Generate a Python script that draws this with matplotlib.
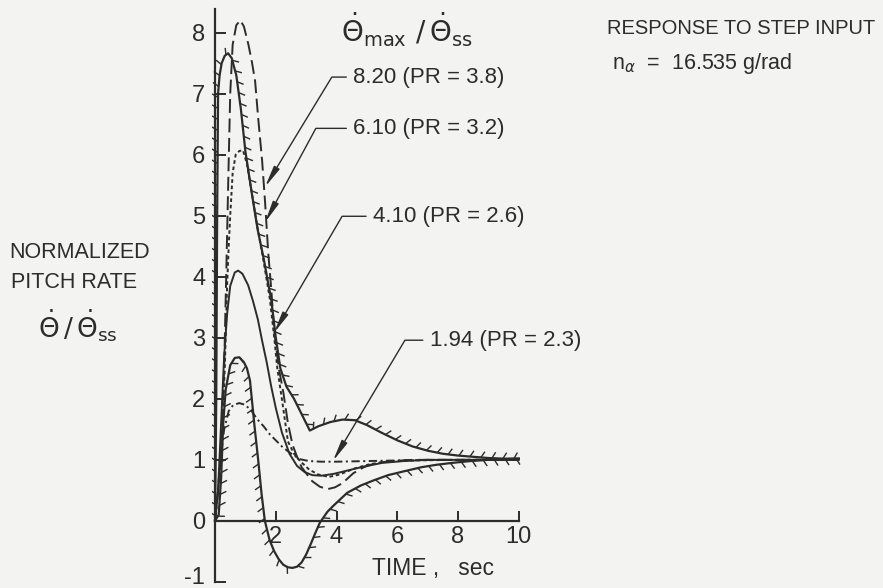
import numpy as np
import matplotlib
matplotlib.use("Agg")
import matplotlib.pyplot as plt
import matplotlib.transforms as mtransforms
from matplotlib.collections import LineCollection

plt.rcParams['font.family'] = ['Liberation Sans', 'DejaVu Sans']
plt.rcParams['mathtext.fontset'] = 'dejavusans'
plt.rcParams['axes.unicode_minus'] = False
plt.rcParams['lines.scale_dashes'] = False

INK = '#2c2c2c'
PAPER = '#f3f3f1'

# upper boundary (hatched)
t_upper = [0, 0.04, 0.07, 0.1, 0.15, 0.22, 0.32, 0.43, 0.55, 0.7, 0.85, 1.0, 1.2, 1.4, 1.6, 1.85,
           2.0, 2.15, 2.35, 2.6, 2.85, 3.12, 3.4, 3.8, 4.2, 4.6, 5.0, 5.5, 6.0, 6.5, 7.0, 7.5,
           8.0, 8.5, 9.0, 9.5, 10.0]
y_upper = [0, 2.0, 5.0, 7.0, 7.3, 7.5, 7.62, 7.66, 7.58, 7.3, 6.75, 6.05, 5.4, 4.78, 4.3, 3.62,
           3.0, 2.5, 2.2, 2.0, 1.75, 1.48, 1.55, 1.62, 1.66, 1.65, 1.57, 1.44, 1.32, 1.22, 1.15, 1.1,
           1.07, 1.05, 1.03, 1.02, 1.02]

# lower boundary (hatched)
t_lower = [0, 0.12, 0.2, 0.27, 0.35, 0.5, 0.65, 0.8, 0.95, 1.05, 1.15, 1.3, 1.42, 1.53, 1.64, 1.8,
           1.95, 2.1, 2.25, 2.4, 2.55, 2.7, 2.85, 3.0, 3.15, 3.3, 3.45, 3.7, 3.9, 4.35, 4.8, 5.2,
           5.7, 6.2, 6.8, 7.3, 7.8, 8.4, 9.0, 9.5, 10.0]
y_lower = [0, 0.1, 0.7, 1.6, 2.15, 2.55, 2.67, 2.68, 2.6, 2.5, 2.3, 1.55, 1.0, 0.45, 0.0, -0.32,
           -0.5, -0.63, -0.72, -0.76, -0.77, -0.75, -0.68, -0.55, -0.38, -0.2, -0.03, 0.15, 0.25, 0.46, 0.58, 0.66,
           0.75, 0.81, 0.88, 0.92, 0.95, 0.98, 1.0, 1.01, 1.02]

# 8.20 (PR = 3.8)
t_820 = [0, 0.1, 0.2, 0.3, 0.38, 0.45, 0.5, 0.58, 0.7, 0.83, 0.95, 1.1, 1.22, 1.32, 1.42, 1.55,
         1.65, 1.75, 1.85, 1.95, 2.1, 2.25, 2.4, 2.55, 2.7, 2.85, 3.0, 3.2, 3.45, 3.7, 3.95, 4.2,
         4.55, 4.9, 5.3, 5.8, 6.5, 8.0, 10.0]
y_820 = [0, 0.5, 1.3, 2.5, 4.3, 5.9, 7.0, 7.8, 8.12, 8.2, 8.1, 7.8, 7.5, 7.2, 6.6, 5.9,
         5.2, 4.4, 3.8, 3.1, 2.5, 2.1, 1.6, 1.25, 1.05, 0.88, 0.78, 0.65, 0.56, 0.52, 0.55, 0.62,
         0.78, 0.88, 0.95, 0.98, 1.0, 1.0, 1.0]

# 6.10 (PR = 3.2)
t_610 = [0, 0.2, 0.32, 0.4, 0.45, 0.5, 0.58, 0.68, 0.8, 0.92, 1.05, 1.2, 1.4, 1.6, 1.8, 1.95,
         2.05, 2.2, 2.4, 2.6, 2.8, 3.1, 3.4, 3.75, 4.1, 4.6, 5.1, 5.7, 6.5, 8.0, 10.0]
y_610 = [0, 1.0, 2.5, 3.9, 4.5, 5.0, 5.7, 6.0, 6.06, 6.07, 5.85, 5.4, 4.8, 4.25, 3.65, 3.0,
         2.5, 2.0, 1.3, 1.1, 0.98, 0.84, 0.76, 0.72, 0.76, 0.86, 0.93, 0.97, 0.99, 1.0, 1.0]

# 4.10 (PR = 2.6)
t_410 = [0, 0.1, 0.2, 0.3, 0.4, 0.5, 0.65, 0.76, 0.9, 1.09, 1.25, 1.41, 1.55, 1.7, 1.85, 2.0,
         2.2, 2.45, 2.7, 2.95, 3.2, 3.5, 3.9, 4.4, 4.9, 5.5, 6.2, 7.0, 10.0]
y_410 = [0, 0.5, 1.6, 2.7, 3.4, 3.85, 4.07, 4.1, 4.05, 3.86, 3.6, 3.3, 2.95, 2.6, 2.2, 1.85,
         1.45, 1.1, 0.9, 0.8, 0.75, 0.74, 0.77, 0.83, 0.89, 0.95, 0.98, 1.0, 1.0]

# 1.94 (PR = 2.3)
t_194 = [0, 0.1, 0.2, 0.3, 0.45, 0.6, 0.8, 1.0, 1.2, 1.4, 1.6, 1.8, 2.0, 2.2, 2.4, 2.6,
         2.8, 3.1, 3.5, 4.0, 5.0, 6.0, 7.0, 10.0]
y_194 = [0, 0.5, 1.1, 1.5, 1.8, 1.9, 1.93, 1.9, 1.8, 1.66, 1.55, 1.42, 1.32, 1.22, 1.14, 1.07,
         1.01, 0.98, 0.97, 0.97, 0.98, 0.99, 1.0, 1.0]

# label text, arrow tip (t, y), text anchor (t, y), leader angle
labels = ['8.20 (PR = 3.8)', '6.10 (PR = 3.2)', '4.10 (PR = 2.6)', '1.94 (PR = 2.3)']
label_tips = [(1.645, 5.47), (1.645, 4.89), (1.94, 3.08), (3.88, 0.98)]
label_pos = [(4.55, 7.27), (4.55, 6.43), (5.2, 4.99), (7.07, 2.96)]
leader_angles = [58.7, 61.6, 59.7, 59.2]


def hatch(ax, t, y, side, length=7.0, spacing=11.0, tilt=30.0):
    # short ticks along a boundary curve, on one side of it
    pts = ax.transData.transform(np.column_stack([t, y]))
    seg = np.diff(pts, axis=0)
    seglen = np.hypot(seg[:, 0], seg[:, 1])
    keep = seglen > 0
    seg, seglen = seg[keep], seglen[keep]
    starts = pts[:-1][keep]
    s = np.concatenate([[0], np.cumsum(seglen)])
    ss = np.arange(spacing / 2, s[-1], spacing)
    idx = np.clip(np.searchsorted(s, ss) - 1, 0, len(seglen) - 1)
    frac = (ss - s[idx]) / seglen[idx]
    base = starts[idx] + seg[idx] * frac[:, None]
    tan = seg[idx] / seglen[idx][:, None]
    nrm = side * np.column_stack([-tan[:, 1], tan[:, 0]])
    a = np.radians(tilt)
    tip = base + length * (np.cos(a) * nrm + np.sin(a) * tan)
    inv = ax.transData.inverted()
    b = inv.transform(base)
    e = inv.transform(tip)
    lc = LineCollection(np.stack([b, e], axis=1), colors=INK, linewidths=1.0)
    ax.add_collection(lc)


fig = plt.figure(figsize=(8.83, 5.88), dpi=100, facecolor=PAPER)
ax = fig.add_axes([212 / 883, 3 / 588, 322 / 883, 583 / 588])
ax.set_facecolor(PAPER)
ax.set_xlim(-0.1, 10.5)
ax.set_ylim(-1.05, 8.5)

ax.plot(t_upper, y_upper, color=INK, lw=1.6, solid_joinstyle='round')
ax.plot(t_lower, y_lower, color=INK, lw=1.6, solid_joinstyle='round')
hatch(ax, t_upper, y_upper, side=1, tilt=30)
hatch(ax, t_lower, y_lower, side=-1, tilt=30)

ax.plot(t_820, y_820, color=INK, lw=1.4, dashes=(10, 4))
ax.plot(t_610, y_610, color=INK, lw=1.4, dashes=(2.6, 2.0))
ax.plot(t_410, y_410, color=INK, lw=1.4)
ax.plot(t_194, y_194, color=INK, lw=1.4, dashes=(6, 2.5, 1.5, 2.5))

for txt, tip, pos, ang in zip(labels, label_tips, label_pos, leader_angles):
    ax.annotate(txt, xy=tip, xytext=pos, ha='left', va='center', fontsize=16,
                color=INK, annotation_clip=False,
                arrowprops=dict(arrowstyle='-|>,head_length=0.8,head_width=0.12',
                                connectionstyle=f'angle,angleA=0,angleB={ang},rad=0',
                                color=INK, lw=1.0, shrinkA=3, shrinkB=0))

ax.text(6.3, 8.04, r'$\dot{\Theta}_{\mathrm{max}}\ /\,\dot{\Theta}_{\mathrm{ss}}$',
        ha='center', va='center', fontsize=20, color=INK)

for side in ['top', 'right']:
    ax.spines[side].set_visible(False)
ax.spines['left'].set_position(('data', 0))
ax.spines['bottom'].set_position(('data', 0))
ax.spines['left'].set_bounds(-1, 8.38)
ax.spines['bottom'].set_bounds(0, 10)
for side in ['left', 'bottom']:
    ax.spines[side].set_color(INK)
    ax.spines[side].set_linewidth(1.6)

ax.set_xticks([2, 4, 6, 8, 10])
ax.set_yticks(range(-1, 9))
ax.tick_params(axis='x', direction='in', length=7, width=1.4, pad=4,
               labelsize=17, colors=INK)
ax.tick_params(axis='y', direction='in', length=8, width=1.4, pad=7,
               labelsize=17, colors=INK)
# keep the bottom tick label inside the figure
ylabels = ax.get_yticklabels()
ylabels[0].set_transform(ylabels[0].get_transform() +
                         mtransforms.ScaledTranslation(0, 5 / 72, fig.dpi_scale_trans))

fig.text(372 / 883, 1 - 568 / 588, 'TIME ,   sec', ha='left', va='center',
         fontsize=16.5, color=INK)
fig.text(9 / 883, 1 - 253 / 588, 'NORMALIZED', ha='left', va='center',
         fontsize=15.5, color=INK)
fig.text(11 / 883, 1 - 282 / 588, 'PITCH RATE', ha='left', va='center',
         fontsize=15.5, color=INK)
fig.text(38 / 883, 1 - 326 / 588, r'$\dot{\Theta}\,/\,\dot{\Theta}_{\mathrm{ss}}$',
         ha='left', va='center', fontsize=19, color=INK)
fig.text(607 / 883, 1 - 29 / 588, 'RESPONSE TO STEP INPUT', ha='left', va='center',
         fontsize=14.5, color=INK)
fig.text(612 / 883, 1 - 63 / 588, r'n$_{\alpha}$  =  16.535 g/rad', ha='left', va='center',
         fontsize=15.5, color=INK)

fig.savefig('out.png', dpi=100, facecolor=PAPER)
